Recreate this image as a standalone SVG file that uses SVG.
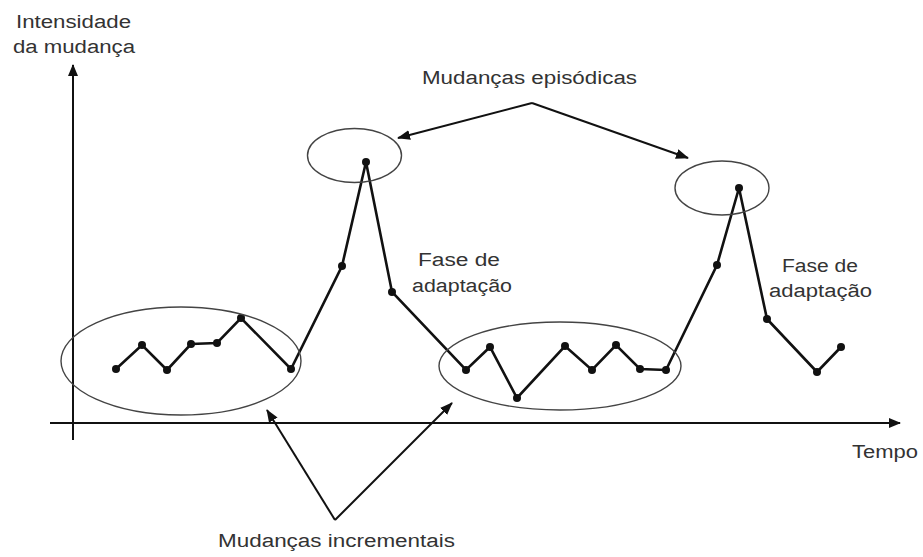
<svg xmlns="http://www.w3.org/2000/svg" width="923" height="557" viewBox="0 0 923 557">
  <style>
    .lbl { font-family: "Liberation Sans", Arial, sans-serif; font-size: 18px; fill: #333; }
    .axis { stroke: #111; stroke-width: 2; fill: none; }
    .series { stroke: #111; stroke-width: 2.6; fill: none; stroke-linejoin: miter; }
    .pt { fill: #111; }
    .ring { stroke: #444; stroke-width: 1.4; fill: none; }
    .ptr { stroke: #111; stroke-width: 2; fill: none; }
  </style>
  <defs>
    <marker id="head" viewBox="0 0 12 10" refX="11" refY="5" markerWidth="12" markerHeight="10" markerUnits="userSpaceOnUse" orient="auto">
      <path d="M0,0 L12,5 L0,10 z" fill="#111"/>
    </marker>
    <marker id="ptrhead" viewBox="0 0 13 10" refX="12" refY="5" markerWidth="13" markerHeight="10" markerUnits="userSpaceOnUse" orient="auto">
      <path d="M0,0 L13,5 L0,10 z" fill="#111"/>
    </marker>
  </defs>

  <rect width="923" height="557" fill="#fff"/>

  <!-- axes -->
  <g id="axes">
    <line class="axis" x1="73" y1="440" x2="73" y2="65" marker-end="url(#head)"/>
    <line class="axis" x1="50" y1="423" x2="900" y2="423" marker-end="url(#head)"/>
    <text class="lbl" x="16" y="28" textLength="115" lengthAdjust="spacingAndGlyphs">Intensidade</text>
    <text class="lbl" x="13" y="53" textLength="122" lengthAdjust="spacingAndGlyphs">da mudança</text>
    <text class="lbl" x="852" y="458" textLength="66" lengthAdjust="spacingAndGlyphs">Tempo</text>
  </g>

  <!-- data series -->
  <g id="series">
    <polyline class="series" points="116,369 142,345 167,370 191,344 217,343 241,318 291,369 342,266 366,162 392,292 466,370 490,347 517,398 565,346 592,370 616,345 640,369 666,370 717,265 739,188 767,319 817,372 841,347"/>
    <g class="pt">
      <circle cx="116" cy="369" r="4"/>
      <circle cx="142" cy="345" r="4"/>
      <circle cx="167" cy="370" r="4"/>
      <circle cx="191" cy="344" r="4"/>
      <circle cx="217" cy="343" r="4"/>
      <circle cx="241" cy="318" r="4"/>
      <circle cx="291" cy="369" r="4"/>
      <circle cx="342" cy="266" r="4"/>
      <circle cx="366" cy="162" r="4"/>
      <circle cx="392" cy="292" r="4"/>
      <circle cx="466" cy="370" r="4"/>
      <circle cx="490" cy="347" r="4"/>
      <circle cx="517" cy="398" r="4"/>
      <circle cx="565" cy="346" r="4"/>
      <circle cx="592" cy="370" r="4"/>
      <circle cx="616" cy="345" r="4"/>
      <circle cx="640" cy="369" r="4"/>
      <circle cx="666" cy="370" r="4"/>
      <circle cx="717" cy="265" r="4"/>
      <circle cx="739" cy="188" r="4"/>
      <circle cx="767" cy="319" r="4"/>
      <circle cx="817" cy="372" r="4"/>
      <circle cx="841" cy="347" r="4"/>
    </g>
  </g>

  <!-- highlighted regions -->
  <g id="incremental-1"><ellipse class="ring" cx="181" cy="361" rx="120" ry="54"/></g>
  <g id="incremental-2"><ellipse class="ring" cx="560" cy="366" rx="121" ry="44"/></g>
  <g id="episodic-1"><ellipse class="ring" cx="354.5" cy="155.5" rx="47" ry="27"/></g>
  <g id="episodic-2"><ellipse class="ring" cx="722" cy="188" rx="47" ry="27"/></g>

  <!-- labels -->
  <g id="label-episodic">
    <text class="lbl" x="422" y="84" textLength="215" lengthAdjust="spacingAndGlyphs">Mudanças episódicas</text>
  </g>
  <g id="label-adapt-1">
    <text class="lbl" x="418" y="266" textLength="82" lengthAdjust="spacingAndGlyphs">Fase de</text>
    <text class="lbl" x="412" y="292" textLength="100" lengthAdjust="spacingAndGlyphs">adaptação</text>
  </g>
  <g id="label-adapt-2">
    <text class="lbl" x="782" y="272" textLength="76" lengthAdjust="spacingAndGlyphs">Fase de</text>
    <text class="lbl" x="769" y="297" textLength="103" lengthAdjust="spacingAndGlyphs">adaptação</text>
  </g>
  <g id="label-incremental">
    <text class="lbl" x="218" y="547" textLength="237" lengthAdjust="spacingAndGlyphs">Mudanças incrementais</text>
  </g>

  <!-- pointers -->
  <g id="connectors">
    <line class="ptr" x1="532" y1="103" x2="398" y2="138" marker-end="url(#ptrhead)"/>
    <line class="ptr" x1="532" y1="103" x2="688" y2="158" marker-end="url(#ptrhead)"/>
    <line class="ptr" x1="335" y1="520" x2="267" y2="410" marker-end="url(#ptrhead)"/>
    <line class="ptr" x1="335" y1="520" x2="452" y2="403" marker-end="url(#ptrhead)"/>
  </g>
</svg>
